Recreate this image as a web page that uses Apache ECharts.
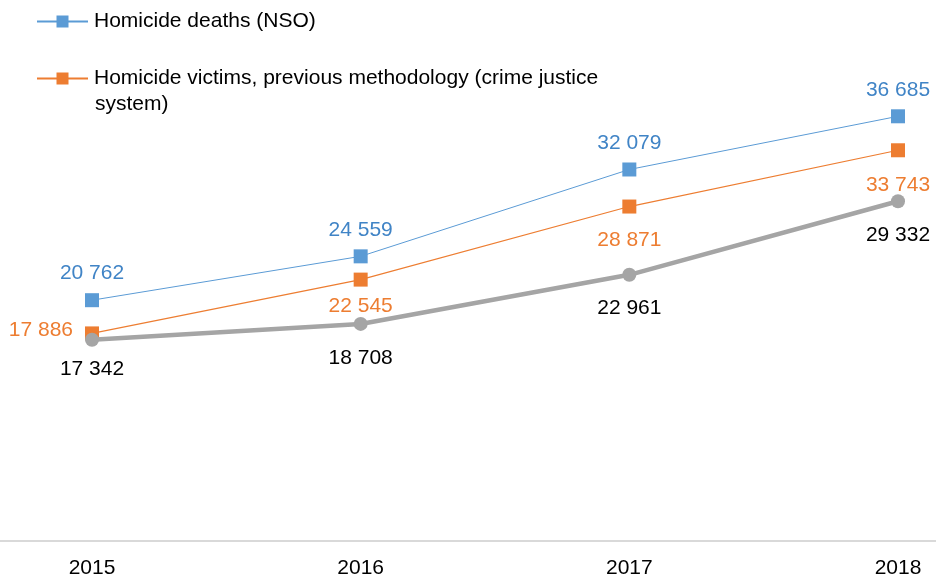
<!DOCTYPE html>
<html>
<head>
<meta charset="utf-8">
<script src="https://cdn.jsdelivr.net/npm/echarts@6/dist/echarts.min.js"></script>
<style>html,body{margin:0;padding:0;background:#fff}#c{width:936px;height:579px}</style>
</head>
<body>
<div id="c"></div>
<script>
const categories = ['2015', '2016', '2017', '2018'];
const nsoDeaths = [20762, 24559, 32079, 36685];
const previousMethod = [17886, 22545, 28871, 33743];
const thirdSeries = [17342, 18708, 22961, 29332];
const seriesNames = ['Homicide deaths (NSO)', 'Homicide victims, previous methodology (crime justice system)', 'Homicide victims'];
const legendLine1 = 'Homicide victims, previous methodology (crime justice';
const legendLine2 = 'system)';

const FONT = 'Liberation Sans, Arial, sans-serif';
const FS = 21;
const chart = echarts.init(document.getElementById('c'), null, {renderer: 'canvas'});

function fmt(v) { return String(v).replace(/\B(?=(\d{3})+(?!\d))/g, ' '); }

// per-point label placement (styling only)
const orangeLabelCfg = [
  {position: 'left', distance: 12, offset: [0, -3]},
  {distance: 9},
  {distance: 16},
  {distance: 17}
];
const greyLabelCfg = [{distance: 12}, {distance: 17}, {distance: 16}, {distance: 16}];

const orangeData = previousMethod.map((v, i) => ({value: v, label: orangeLabelCfg[i]}));
const greyData = thirdSeries.map((v, i) => ({value: v, label: greyLabelCfg[i]}));

chart.setOption({
  animation: false,
  textStyle: {fontFamily: FONT},
  title: {
    text: legendLine2, left: 95, top: 94, padding: 0,
    textStyle: {fontFamily: FONT, fontSize: FS, fontWeight: 'normal', color: '#000'}
  },
  legend: [{
    left: 36, top: 11, padding: 0, orient: 'vertical',
    itemWidth: 51, itemHeight: 15,
    data: [seriesNames[0]],
    textStyle: {fontFamily: FONT, fontSize: FS, color: '#000', padding: [0, 0, 0, 1]}
  }, {
    left: 36, top: 68, padding: 0, orient: 'vertical',
    itemWidth: 51, itemHeight: 15,
    data: [seriesNames[1]],
    formatter: () => legendLine1,
    textStyle: {fontFamily: FONT, fontSize: FS, color: '#000', padding: [0, 0, 0, 1]}
  }],
  grid: [
    {left: 92, right: 38, top: 78, bottom: 39},
    {left: 0, right: 0, top: 78, bottom: 38}
  ],
  xAxis: [{
    type: 'category', gridIndex: 0, data: categories, boundaryGap: false,
    axisLine: {show: false}, axisTick: {show: false},
    axisLabel: {fontFamily: FONT, fontSize: FS, color: '#000', margin: 18}
  }, {
    type: 'category', gridIndex: 1, data: categories, boundaryGap: false,
    axisLine: {show: true, lineStyle: {color: '#d9d9d9', width: 2}},
    axisTick: {show: false}, axisLabel: {show: false}
  }],
  yAxis: [{
    type: 'value', gridIndex: 0, min: 0, max: 40000,
    show: false, splitLine: {show: false}
  }, {
    type: 'value', gridIndex: 1, min: 0, max: 1, show: false, splitLine: {show: false}
  }],
  series: [{
    name: seriesNames[0], type: 'line', data: nsoDeaths,
    symbol: 'rect', symbolSize: 14,
    itemStyle: {color: '#5B9BD5'},
    lineStyle: {color: '#5B9BD5', width: 1},
    label: {show: true, position: 'top', distance: 9, formatter: p => fmt(p.value),
      fontFamily: FONT, fontSize: FS, color: '#4084C6'},
    z: 3
  }, {
    name: seriesNames[1], type: 'line', data: orangeData,
    symbol: 'rect', symbolSize: 14,
    itemStyle: {color: '#ED7D31'},
    lineStyle: {color: '#ED7D31', width: 1.2},
    label: {show: true, position: 'bottom', distance: 6, formatter: p => fmt(p.value),
      fontFamily: FONT, fontSize: FS, color: '#ED7D31'},
    z: 3
  }, {
    name: seriesNames[2], type: 'line', data: greyData,
    symbol: 'circle', symbolSize: 14,
    itemStyle: {color: '#A5A5A5'},
    lineStyle: {color: '#A5A5A5', width: 4.5},
    label: {show: true, position: 'bottom', distance: 13, formatter: p => fmt(p.value),
      fontFamily: FONT, fontSize: FS, color: '#000'},
    z: 4
  }]
});
</script>
</body>
</html>
